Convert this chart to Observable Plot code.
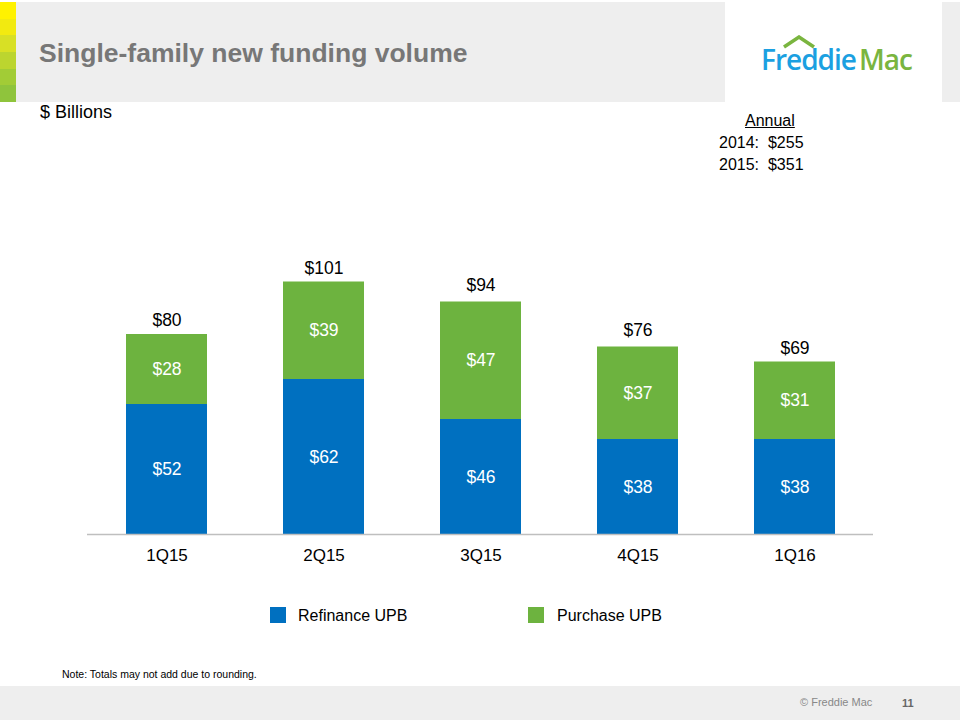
<!DOCTYPE html>
<html>
<head>
<meta charset="utf-8">
<script src="https://cdn.jsdelivr.net/npm/d3@7"></script>
<script src="https://cdn.jsdelivr.net/npm/@observablehq/plot@0.6"></script>
<style>
  html, body { margin: 0; padding: 0; background: #fff; }
  body { width: 960px; height: 720px; position: relative; overflow: hidden; font-family: "Liberation Sans", Arial, sans-serif; }
  .abs { position: absolute; }
  #header { left: 0; top: 2px; width: 725px; height: 100px; background: #eeeeee; }
  #header2 { left: 942px; top: 2px; width: 18px; height: 100px; background: #eeeeee; }
  #stripe { left: 0; top: 2px; width: 16px; height: 100px; }
  #stripe div { height: 16.66px; }
  #title { left: 39px; top: 38px; font-size: 26.5px; font-weight: bold; color: #777777; white-space: nowrap; }
  #logo { left: 761px; top: 40px; font-family: "Open Sans", sans-serif; font-weight: 600; font-size: 28px; letter-spacing: -1px; white-space: nowrap; }
  #units { left: 40px; top: 102px; font-size: 18px; color: #000; }
  #annual { left: 700px; top: 110px; font-size: 16px; color: #000; line-height: 22px; }
  #footer { left: 0; top: 686px; width: 960px; height: 34px; background: #eeeeee; }
  #note { left: 62px; top: 668px; font-size: 10.5px; color: #000; }
  #copy { left: 800px; top: 696px; font-size: 11px; color: #888; }
  #page { left: 902px; top: 697px; font-size: 11px; font-weight: bold; color: #666; }
  .sw { width: 16px; height: 16px; }
  .lt { font-size: 16px; color: #000; }
  #chart { left: 0; top: 0; }
</style>
</head>
<body>
<div id="header" class="abs"></div>
<div id="header2" class="abs"></div>
<div id="stripe" class="abs"></div>
<div id="title" class="abs">Single-family new funding volume</div>
<div id="logo" class="abs"><span style="color:#1ba0e1">Freddie</span><span style="color:#7ab53f;margin-left:3px">Mac</span></div>
<svg class="abs" style="left:782px;top:35px" width="38" height="14"><polyline points="2,12 17,2 32,12" fill="none" stroke="#7ab53f" stroke-width="3.5"/></svg>
<div id="units" class="abs">$ Billions</div>
<div id="chart" class="abs"></div>
<div id="annual" class="abs"></div>
<div class="abs sw" style="left:270px;top:607px;background:#0070c0"></div>
<div class="abs lt" style="left:298px;top:607px">Refinance UPB</div>
<div class="abs sw" style="left:528px;top:607px;background:#6db33f"></div>
<div class="abs lt" style="left:557px;top:607px">Purchase UPB</div>
<div id="note" class="abs">Note: Totals may not add due to rounding.</div>
<div id="footer" class="abs"></div>
<div id="copy" class="abs">© Freddie Mac</div>
<div id="page" class="abs">11</div>
<script>
const quarters = ["1Q15", "2Q15", "3Q15", "4Q15", "1Q16"];
const refinance = [52, 62, 46, 38, 38];
const purchase = [28, 39, 47, 37, 31];
const totals = [80, 101, 94, 76, 69];
const seriesNames = ["Refinance UPB", "Purchase UPB"];
const seriesColors = ["#0070c0", "#6db33f"];
const annualYears = ["2014", "2015"];
const annualValues = [255, 351];
const stripeColors = ["#fff200", "#f2ea10", "#d8e025", "#bcd52f", "#a2cc36", "#8fc43c"];

document.getElementById("stripe").innerHTML = stripeColors.map(c => `<div style="background:${c}"></div>`).join("");
document.getElementById("annual").innerHTML =
  `<div style="text-decoration:underline;margin-left:45px">Annual</div>` +
  annualYears.map((y, i) => `<div style="margin-left:19px">${y}:&nbsp; $${annualValues[i]}</div>`).join("");

const data = [];
quarters.forEach((q, i) => {
  data.push({q, type: seriesNames[0], value: refinance[i]});
  data.push({q, type: seriesNames[1], value: purchase[i]});
});
const totalData = quarters.map((q, i) => ({q, total: totals[i]}));

const chart = Plot.plot({
  width: 960,
  height: 720,
  marginLeft: 87,
  marginRight: 87,
  marginTop: 34,
  marginBottom: 186,
  style: {background: "transparent", fontFamily: "Liberation Sans, Arial, sans-serif", color: "#000"},
  x: {domain: quarters, paddingInner: 0.485, paddingOuter: 0.2425, label: null},
  y: {domain: [0, 200], axis: null},
  color: {domain: seriesNames, range: seriesColors},
  marks: [
    Plot.barY(data, {x: "q", y: "value", fill: "type"}),
    Plot.text(data, Plot.stackY({x: "q", y: "value", text: d => "$" + d.value, fill: "white", fontSize: 17.5})),
    Plot.text(totalData, {x: "q", y: "total", text: d => "$" + d.total, dy: -14, fill: "black", fontSize: 17.5}),
    Plot.ruleY([0], {stroke: "#bfbfbf", strokeWidth: 1.5}),
    Plot.axisX({tickSize: 0, tickPadding: 14, fontSize: 17, label: null, fill: "black"})
  ]
});
document.getElementById("chart").appendChild(chart);
</script>
</body>
</html>
